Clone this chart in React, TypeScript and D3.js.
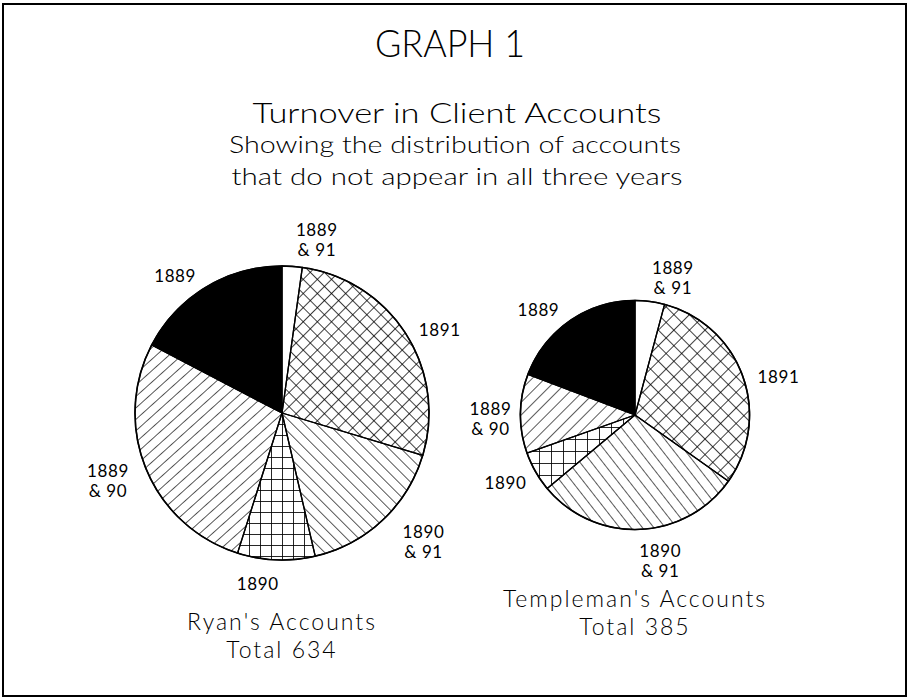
import * as d3 from "d3";

// slice order as drawn, clockwise from 12 o'clock
const categories = ["1889 & 91", "1891", "1890 & 91", "1890", "1889 & 90", "1889"];
const ryanValues = [14, 174, 106, 54, 176, 110];
const templemanValues = [16, 118, 112, 22, 43, 74];

const pieNames = ["Ryan's Accounts", "Templeman's Accounts"];
const pieTotals = [634, 385];

const titleLines = ["GRAPH 1"];
const subtitleLines = [
  "Turnover in Client Accounts",
  "Showing the distribution of accounts",
  "that do not appear in all three years",
];

const W = 909;
const H = 698;
const FONT = "Lato, 'Open Sans', 'DejaVu Sans', sans-serif";

// fill pattern per category (pattern ids get the pie index appended)
const fillFor: Record<string, string> = {
  "1889 & 91": "#fff",
  "1891": "xhatch",
  "1890 & 91": "bslash",
  "1890": "grid",
  "1889 & 90": "fslash",
  "1889": "#000",
};

// hatch spacing per pie, the smaller pie was drawn a bit coarser
const hatchSize = [
  { x: 10, b: 8.5, f: 8.5, g: 11, fa: -42, ba: 45 },
  { x: 11, b: 9, f: 9, g: 12, fa: -45, ba: 52 },
];

// small hand nudges for the slice labels (layout only)
const nudges = [
  [
    [22, 8],
    [2, 9],
    [15, -3],
    [-17, 0],
    [-3, -1],
    [-11, 9],
  ],
  [
    [18, 10],
    [0, 9],
    [19, -2],
    [3, -1],
    [8, 6],
    [-10, 9],
  ],
];

const centers = [
  { x: 282, y: 413 },
  { x: 635, y: 415 },
];

// pie area proportional to total accounts
const rScale = d3.scaleSqrt().domain([0, 634]).range([0, 147]);

const pie = d3
  .pie<number>()
  .sort(null)
  .value((d) => d);

function fill(cat: string, idx: number) {
  const f = fillFor[cat];
  return f.startsWith("#") ? f : `url(#${f}${idx})`;
}

function Pie({ idx, values }: { idx: number; values: number[] }) {
  const c = centers[idx];
  const r = rScale(pieTotals[idx]);
  const arc = d3.arc<d3.PieArcDatum<number>>().innerRadius(0).outerRadius(r);
  const arcs = pie(values);
  const fs = 17;
  const lineH = 20;
  const capH = 12;

  return (
    <g transform={`translate(${c.x},${c.y})`}>
      {arcs.map((d, i) => (
        <path
          key={i}
          d={arc(d) || ""}
          fill={fill(categories[i], idx)}
          stroke="#000"
          strokeWidth={1.3}
          strokeLinejoin="round"
        />
      ))}
      <circle r={r} fill="none" stroke="#000" strokeWidth={1.6} />
      {arcs.map((d, i) => {
        const lines = categories[i].split(" & ").map((s, k) => (k ? "& " + s : s));
        const a = (d.startAngle + d.endAngle) / 2;
        const s = Math.sin(a);
        const co = Math.cos(a);
        const ra = r + 18;
        const halfW = 20;
        const halfH = (capH + (lines.length - 1) * lineH) / 2;
        const n = nudges[idx][i];
        const bx = ra * s + halfW * s + n[0];
        const by = -ra * co - halfH * co + n[1];
        const y0 = by - halfH + capH;
        return (
          <text
            key={"l" + i}
            textAnchor="middle"
            fontSize={fs}
            letterSpacing={0.6}
            fontFamily={FONT}
            fill="#000"
          >
            {lines.map((t, k) => (
              <tspan key={k} x={bx} y={y0 + k * lineH}>
                {t}
              </tspan>
            ))}
          </text>
        );
      })}
    </g>
  );
}

export default function App() {
  return (
    <svg
      width={W}
      height={H}
      style={{ position: "absolute", left: 0, top: 0, background: "#fff" }}
    >
      <defs>
        {hatchSize.map((h, i) => (
          <g key={i}>
            <pattern id={"xhatch" + i} width={h.x} height={h.x} patternUnits="userSpaceOnUse" patternTransform="rotate(45)">
              <line x1={0} y1={0} x2={h.x} y2={0} stroke="#000" strokeWidth={1.5} />
              <line x1={0} y1={0} x2={0} y2={h.x} stroke="#000" strokeWidth={1.5} />
            </pattern>
            <pattern id={"bslash" + i} width={h.b} height={h.b} patternUnits="userSpaceOnUse" patternTransform={`rotate(${h.ba})`}>
              <line x1={0} y1={0} x2={h.b} y2={0} stroke="#000" strokeWidth={1.3} />
            </pattern>
            <pattern id={"fslash" + i} width={h.f} height={h.f} patternUnits="userSpaceOnUse" patternTransform={`rotate(${h.fa})`}>
              <line x1={0} y1={0} x2={h.f} y2={0} stroke="#000" strokeWidth={1.3} />
            </pattern>
            <pattern id={"grid" + i} width={h.g} height={h.g} patternUnits="userSpaceOnUse">
              <line x1={0} y1={0} x2={h.g} y2={0} stroke="#000" strokeWidth={1.7} />
              <line x1={0} y1={0} x2={0} y2={h.g} stroke="#000" strokeWidth={1.7} />
            </pattern>
          </g>
        ))}
      </defs>

      <rect x={3} y={4} width={903} height={692} fill="#fff" stroke="#000" strokeWidth={2} />

      <text x={450} y={57} textAnchor="middle" fontSize={38} fontWeight={300} fontFamily={FONT} textLength={150} lengthAdjust="spacingAndGlyphs">
        {titleLines[0]}
      </text>
      <text x={457} y={123} textAnchor="middle" fontSize={28} fontWeight={300} fontFamily={FONT} textLength={409} lengthAdjust="spacingAndGlyphs">
        {subtitleLines[0]}
      </text>
      <text x={455} y={153} textAnchor="middle" fontSize={24} fontWeight={300} fontFamily={FONT} textLength={452} lengthAdjust="spacingAndGlyphs">
        {subtitleLines[1]}
      </text>
      <text x={457} y={185} textAnchor="middle" fontSize={24} fontWeight={300} fontFamily={FONT} textLength={451} lengthAdjust="spacingAndGlyphs">
        {subtitleLines[2]}
      </text>

      <Pie idx={0} values={ryanValues} />
      <Pie idx={1} values={templemanValues} />

      {pieNames.map((name, i) => {
        const base = i === 0 ? 630 : 607;
        return (
          <text key={name} textAnchor="middle" fontSize={23} fontWeight={300} letterSpacing={2} fontFamily={FONT}>
            <tspan x={centers[i].x} y={base}>
              {name}
            </tspan>
            <tspan x={centers[i].x} y={base + 28}>
              {"Total " + pieTotals[i]}
            </tspan>
          </text>
        );
      })}
    </svg>
  );
}
